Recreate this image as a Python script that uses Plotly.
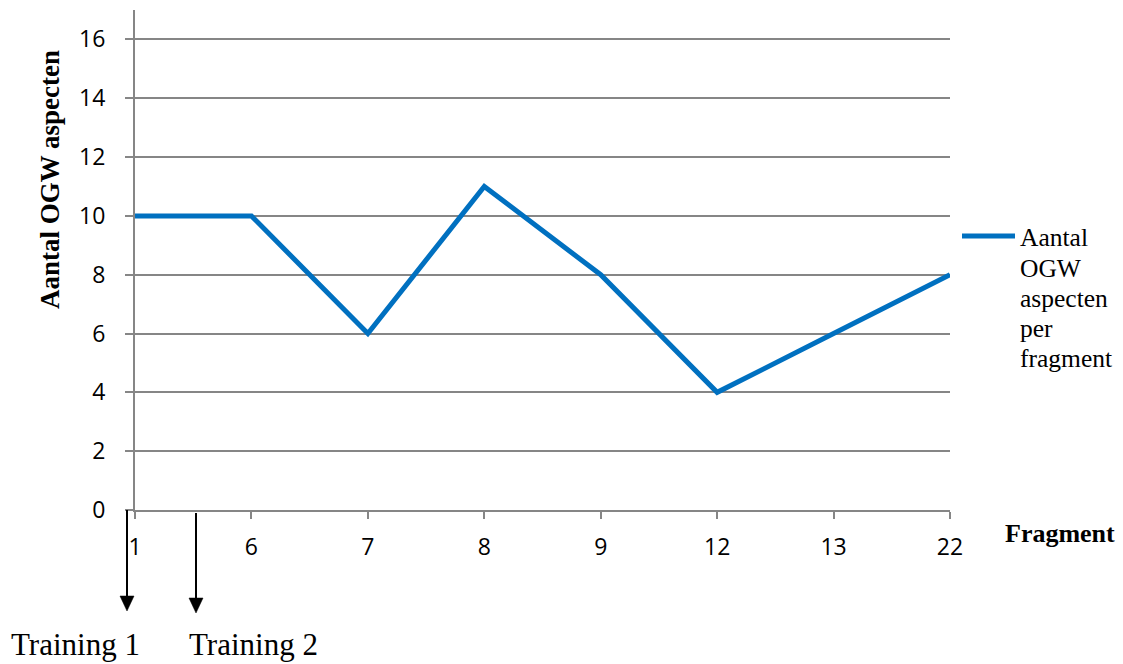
import plotly.graph_objects as go

# Fragment numbers and number of OGW aspects counted per fragment
fragments = ["1", "6", "7", "8", "9", "12", "13", "22"]
aspect_counts = [10, 10, 6, 11, 8, 4, 6, 8]
series_lines = ["Aantal", "OGW", "aspecten", "per", "fragment"]
y_title = "Aantal OGW aspecten"
x_title = "Fragment"
training_labels = ["Training 1", "Training 2"]

W, H = 1123, 664
L, R, T, B = 135, 950, 10, 510

BLUE = "#0070C0"
GREY = "#868686"
SERIF = "Liberation Serif, Times New Roman, serif"
SANS = "Open Sans, Lato, sans-serif"


def px(x):
    return (x - L) / (R - L)


def py(y):
    return (B - y) / (B - T)


fig = go.Figure()
fig.add_trace(go.Scatter(
    x=fragments, y=aspect_counts, mode="lines",
    line=dict(color=BLUE, width=5),
    name=" ".join(series_lines), showlegend=False,
))

shapes = []
annotations = []

# legend sample line and wrapped series name
shapes.append(dict(type="line", xref="paper", yref="paper",
                   x0=px(962), x1=px(1015), y0=py(236), y1=py(236),
                   line=dict(color=BLUE, width=5)))
for i, word in enumerate(series_lines):
    annotations.append(dict(text=word, xref="paper", yref="paper",
                            x=px(1018), y=py(238 + 30 * i),
                            xanchor="left", yanchor="middle", showarrow=False,
                            font=dict(family=SERIF, size=25.5, color="black")))

# axis titles
annotations.append(dict(text="<b>" + y_title + "</b>", xref="paper", yref="paper",
                        x=px(50), y=py(180), textangle=-90,
                        xanchor="center", yanchor="middle", showarrow=False,
                        font=dict(family=SERIF, size=27, color="black")))
annotations.append(dict(text="<b>" + x_title + "</b>", xref="paper", yref="paper",
                        x=px(1060), y=py(533),
                        xanchor="center", yanchor="middle", showarrow=False,
                        font=dict(family=SERIF, size=26, color="black")))

# training markers below the axis
arrows = [(127, 510, 611, 75), (196, 513, 613, 253)]
for (ax_x, y_start, y_tip, label_x), label in zip(arrows, training_labels):
    shapes.append(dict(type="line", xref="paper", yref="paper",
                       x0=px(ax_x), x1=px(ax_x), y0=py(y_start), y1=py(y_tip - 12),
                       line=dict(color="black", width=2)))
    path = "M {a},{b} L {c},{b} L {d},{e} Z".format(
        a=px(ax_x - 7), c=px(ax_x + 7), b=py(y_tip - 15), d=px(ax_x), e=py(y_tip))
    shapes.append(dict(type="path", xref="paper", yref="paper", path=path,
                       fillcolor="black", line=dict(color="black", width=0.5)))
    annotations.append(dict(text=label, xref="paper", yref="paper",
                            x=px(label_x), y=py(644),
                            xanchor="center", yanchor="middle", showarrow=False,
                            font=dict(family=SERIF, size=31, color="black")))

fig.update_layout(
    width=W, height=H,
    margin=dict(l=L, r=W - R, t=T, b=H - B, pad=0),
    paper_bgcolor="white", plot_bgcolor="white",
    shapes=shapes, annotations=annotations,
    xaxis=dict(
        type="category", range=[0, len(fragments) - 1],
        showgrid=False, zeroline=False,
        showline=True, linecolor=GREY, linewidth=2,
        ticks="outside", ticklen=7, tickwidth=2, tickcolor=GREY,
        ticklabelstandoff=8,
        tickfont=dict(family=SANS, size=23, color="black"),
    ),
    yaxis=dict(
        range=[0, 17], dtick=2, tick0=0,
        showgrid=True, gridcolor=GREY, gridwidth=2, zeroline=False,
        showline=True, linecolor=GREY, linewidth=2,
        ticks="outside", ticklen=8, tickwidth=2, tickcolor=GREY,
        ticklabelstandoff=15,
        tickfont=dict(family=SANS, size=23, color="black"),
    ),
)

fig.write_html("out.html")
